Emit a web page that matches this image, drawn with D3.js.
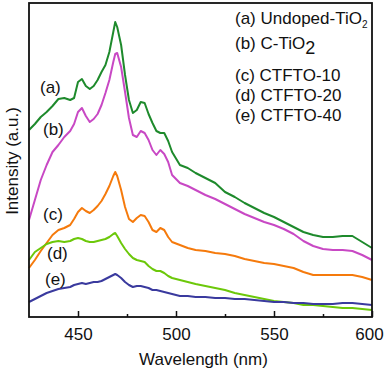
<!DOCTYPE html>
<html>
<head>
<meta charset="utf-8">
<script src="https://cdn.jsdelivr.net/npm/d3@7/dist/d3.min.js"></script>
<style>
  html, body { margin: 0; padding: 0; background: #fff; }
  svg { display: block; font-family: "Liberation Sans", Arial, sans-serif; }
</style>
</head>
<body>
<svg id="chart" width="387" height="372"></svg>
<script>
// wavelength (nm) sampling of the PL spectra
const wavelengths = [425, 428, 431, 434, 437, 440, 443, 446,
  448, 450, 452, 454, 456, 458, 460, 462, 464, 466, 468, 469,
  470, 472, 474, 476, 478, 480, 482, 484, 486, 488, 490, 492, 494, 496, 498,
  502, 506, 510,
  515, 520, 525, 530, 535, 540, 545, 550, 555, 560, 565, 570, 575, 580, 585, 590, 595, 600];

// intensities (a.u.)
const undopedTiO2 = [187, 193, 200, 205, 211, 218, 219, 217,
  219, 235, 238, 231, 228, 231, 237, 245, 252, 265, 285, 295,
  290, 272, 242, 217, 204, 207, 215, 214, 203, 194, 186, 184, 184, 176, 165,
  152, 149, 144,
  139, 134, 125, 120, 114, 109, 104, 100, 95, 90, 85, 82, 80, 80, 81, 81, 75, 69];
const cTiO2 = [97, 117, 137, 152, 165, 172, 180, 186,
  193, 205, 209, 201, 195, 198, 203, 212, 224, 237, 255, 263,
  264, 250, 225, 199, 182, 180, 186, 184, 177, 167, 162, 167, 163, 155, 142,
  134, 131, 127,
  122, 118, 113, 108, 103, 99, 95, 92, 88, 83, 76, 71, 68, 67, 67, 66, 62, 57];
const ctfto10 = [49, 57, 66, 74, 82, 87, 89, 92,
  98, 105, 109, 106, 104, 107, 111, 116, 123, 131, 141, 145,
  141, 127, 110, 98, 95, 99, 102, 101, 95, 87, 85, 89, 87, 80, 75,
  72, 69, 67,
  66, 64, 63, 61, 58, 56, 54, 53, 51, 49, 45, 42, 42, 42, 42, 42, 40, 37];
const ctfto20 = [57, 65, 69, 73, 75, 76, 75, 76,
  78, 79, 78, 76, 75, 75, 76, 77, 78, 80, 83, 84,
  81, 74, 68, 63, 59, 57, 56, 55, 51, 48, 46, 46, 44, 41, 39,
  37, 35, 33,
  31, 29, 27, 24, 22, 20, 18, 16, 15, 14, 12, 12, 11, 10, 9, 9, 8, 7];
const ctfto40 = [15, 18, 21, 24, 26, 28, 29, 30,
  32, 33, 34, 33, 34, 35, 35, 36, 38, 40, 42, 43,
  42, 39, 35, 32, 30, 31, 31, 30, 29, 27, 27, 26, 25, 24, 23,
  21, 21, 20,
  20, 19, 19, 18, 18, 17, 16, 15, 15, 14, 14, 13, 13, 13, 14, 14, 13, 12];

const curveTags = ['(a)', '(b)', '(c)', '(d)', '(e)'];
const xTicks = [450, 500, 550, 600];
const xMinorTicks = [475, 525, 575];

const seriesList = [undopedTiO2, cTiO2, ctfto10, ctfto20, ctfto40];
const colors = ['#1e8a2c', '#c848c4', '#f57a0c', '#6cc80a', '#3a3a9e'];

const svg = d3.select('#chart');
const margin = { left: 29, right: 15, top: 3, bottom: 55 };
const W = 387, H = 372;

const x = d3.scaleLinear().domain([425, 600]).range([margin.left, W - margin.right]);
const y = d3.scaleLinear().domain([0, 314]).range([H - margin.bottom, margin.top]);

// spectra
const line = d3.line()
  .x((d, i) => x(wavelengths[i]))
  .y(d => y(d));

svg.append('g')
  .selectAll('path')
  .data(seriesList)
  .join('path')
  .attr('d', line)
  .attr('fill', 'none')
  .attr('stroke', (d, i) => colors[i])
  .attr('stroke-width', 2)
  .attr('stroke-linejoin', 'round');

// bottom axis, ticks pointing inward
const xAxis = svg.append('g')
  .attr('transform', `translate(0,${H - margin.bottom})`)
  .call(d3.axisBottom(x).tickValues(xTicks).tickSizeInner(-6).tickSizeOuter(0).tickPadding(11));
xAxis.select('.domain').remove();
xAxis.selectAll('.tick line').attr('stroke', '#111').attr('stroke-width', 1.5);
xAxis.selectAll('.tick text')
  .attr('font-size', 17)
  .attr('font-family', '"Liberation Sans", Arial, sans-serif')
  .attr('fill', '#111')
  .attr('dx', d => d === 600 ? -3 : 0);

const minor = svg.append('g')
  .attr('transform', `translate(0,${H - margin.bottom})`)
  .call(d3.axisBottom(x).tickValues(xMinorTicks).tickSizeInner(-3).tickSizeOuter(0).tickFormat(''));
minor.select('.domain').remove();
minor.selectAll('.tick line').attr('stroke', '#111').attr('stroke-width', 1.5);

// frame
svg.append('rect')
  .attr('x', margin.left)
  .attr('y', margin.top)
  .attr('width', W - margin.left - margin.right)
  .attr('height', H - margin.top - margin.bottom)
  .attr('fill', 'none')
  .attr('stroke', '#111')
  .attr('stroke-width', 1.8);

// axis titles
svg.append('text')
  .attr('x', (margin.left + W - margin.right) / 2 + 3)
  .attr('y', 365)
  .attr('text-anchor', 'middle')
  .attr('font-size', 17)
  .attr('fill', '#111')
  .text('Wavelength (nm)');

svg.append('text')
  .attr('transform', 'translate(18,161) rotate(-90)')
  .attr('text-anchor', 'middle')
  .attr('font-size', 17)
  .attr('fill', '#111')
  .text('Intensity (a.u.)');

// curve tags
const tagPos = [[40, 93], [43, 135], [43, 220], [47, 259], [45, 285]];
svg.append('g')
  .selectAll('text')
  .data(curveTags)
  .join('text')
  .attr('x', (d, i) => tagPos[i][0])
  .attr('y', (d, i) => tagPos[i][1])
  .attr('font-size', 17)
  .attr('fill', '#111')
  .text(d => d);

// legend text
const legend = svg.append('g').attr('font-size', 17).attr('fill', '#111');
const la = legend.append('text').attr('x', 235).attr('y', 24);
la.append('tspan').text('(a) Undoped-TiO');
la.append('tspan').attr('font-size', 10).attr('dy', 4).text('2');

const lb = legend.append('text').attr('x', 235).attr('y', 49);
lb.append('tspan').text('(b) C-TiO');
lb.append('tspan').attr('font-size', 18).attr('dy', 5).text('2');

legend.append('text').attr('x', 235).attr('y', 81).text('(c) CTFTO-10');
legend.append('text').attr('x', 235).attr('y', 101).text('(d) CTFTO-20');
legend.append('text').attr('x', 235).attr('y', 121).text('(e) CTFTO-40');
</script>
</body>
</html>
